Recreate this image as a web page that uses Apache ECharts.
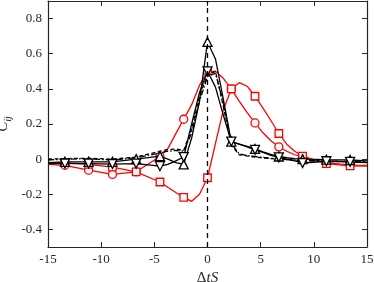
<!DOCTYPE html>
<html><head><meta charset="utf-8">
<script src="https://cdn.jsdelivr.net/npm/echarts@6/dist/echarts.min.js"></script>
<style>html,body{margin:0;padding:0;background:#fff}#c{width:374px;height:282px}</style>
</head><body><div id="c"></div>
<script>
// shared time-lag grid (ΔtS)
const dtS = [-15, -13.41, -11.18, -8.94, -6.71, -4.47, -3.73, -2.98, -2.24, -1.49, -0.75, 0, 0.75, 1.49, 2.24, 2.98, 3.73, 4.47, 5.22, 5.96, 6.71, 7.45, 8.2, 8.94, 11.18, 13.41, 15];
// which points carry a marker
const markerX = [-13.41, -11.18, -8.94, -6.71, -4.47, -2.24, 0, 2.24, 4.47, 6.71, 8.94, 11.18, 13.41];
const redCircle = [-0.03, -0.035, -0.063, -0.087, -0.072, 0.015, 0.06, 0.145, 0.227, 0.31, 0.42, 0.5, 0.5, 0.46, 0.40, 0.33, 0.265, 0.206, 0.15, 0.105, 0.07, 0.045, 0.025, 0.012, -0.02, -0.034, -0.036];
const redSquare = [-0.02, -0.02, -0.03, -0.045, -0.072, -0.13, -0.16, -0.19, -0.218, -0.24, -0.2, -0.106, 0.09, 0.28, 0.40, 0.435, 0.415, 0.358, 0.29, 0.22, 0.146, 0.085, 0.045, 0.017, -0.025, -0.038, -0.04];
const blackUp = [-0.02, -0.015, -0.015, -0.015, 0.0, 0.017, 0.0, -0.02, -0.03, 0.12, 0.33, 0.667, 0.57, 0.34, 0.1, 0.085, 0.072, 0.058, 0.042, 0.027, 0.015, 0.008, 0.003, 0.0, -0.003, -0.005, -0.01];
const blackDown = [-0.025, -0.025, -0.025, -0.028, -0.025, -0.04, -0.03, -0.01, 0.012, 0.2, 0.38, 0.5, 0.41, 0.25, 0.1, 0.085, 0.07, 0.053, 0.038, 0.022, 0.01, 0.0, -0.01, -0.022, -0.012, -0.015, -0.02];
const blackDashed = [0.0, 0.003, 0.005, 0.0, 0.012, 0.045, 0.055, 0.058, 0.05, 0.17, 0.36, 0.48, 0.5, 0.3, 0.08, 0.025, 0.018, 0.012, 0.007, 0.003, 0.0, -0.003, -0.006, -0.008, -0.012, -0.015, -0.018];
const blackDashDot = [-0.005, 0.0, 0.002, -0.005, 0.008, 0.035, 0.045, 0.05, 0.045, 0.15, 0.33, 0.47, 0.49, 0.32, 0.09, 0.03, 0.02, 0.015, 0.01, 0.005, 0.002, -0.002, -0.005, -0.008, -0.01, -0.014, -0.016];
const xTicks = [-15, -10, -5, 0, 5, 10, 15];
const yTicks = [-0.4, -0.2, 0, 0.2, 0.4, 0.6, 0.8];

const FONT = 'Liberation Serif';
const AX = '#262626';

function pts(ys, withMarkers) {
  return dtS.map((x, i) => {
    const o = { value: [x, ys[i]] };
    if (!withMarkers || markerX.indexOf(x) < 0) o.symbol = 'none';
    return o;
  });
}
function mk(name, ys, color, symbol, opts) {
  opts = opts || {};
  return Object.assign({
    name, type: 'line', data: pts(ys, !!symbol),
    symbol: symbol || 'none', symbolSize: opts.size || 8,
    symbolRotate: opts.rotate || 0,
    showAllSymbol: true, silent: true, animation: false,
    lineStyle: { color, width: 1.3, type: opts.dash || 'solid' },
    itemStyle: { color: '#fff', borderColor: color, borderWidth: 1.3 },
    z: opts.z || 2
  }, opts.extra || {});
}

const axLine = { show: true, onZero: false, lineStyle: { color: AX, width: 1.2 } };
const tick = (vals) => Object.assign({ show: true, inside: true, length: 5, lineStyle: { color: AX, width: 1 } }, vals ? { customValues: vals } : {});

const chart = echarts.init(document.getElementById('c'), null, { renderer: 'canvas' });
chart.setOption({
  animation: false,
  grid: { left: 48, right: 7, top: 1, bottom: 35, containLabel: false, outerBoundsMode: 'none' },
  xAxis: [
    { type: 'value', min: -15, max: 15, interval: 5, position: 'bottom',
      axisLine: axLine, axisTick: tick(xTicks), splitLine: { show: false },
      name: '{d|Δ}{i|tS}', nameLocation: 'middle', nameGap: 19,
      nameTextStyle: { color: AX, fontFamily: FONT, fontSize: 15,
        rich: { d: { fontFamily: FONT, fontSize: 15, color: AX }, i: { fontFamily: FONT, fontSize: 15, fontStyle: 'italic', color: AX } } },
      axisLabel: { color: AX, fontFamily: FONT, fontSize: 13, margin: 6, customValues: xTicks, formatter: v => String(v) } },
    { type: 'value', min: -15, max: 15, interval: 5, position: 'top',
      axisLine: axLine, axisTick: tick(xTicks), splitLine: { show: false }, axisLabel: { show: false } }
  ],
  yAxis: [
    { type: 'value', min: -0.5, max: 0.9, position: 'left',
      axisLine: axLine, axisTick: tick(yTicks), splitLine: { show: false },
      axisLabel: { color: AX, fontFamily: FONT, fontSize: 13, margin: 6, customValues: yTicks,
        formatter: v => (Math.abs(v) < 1e-9 ? '0' : String(Math.round(v * 10) / 10)) },
      name: '{c|C}{s|ij}', nameLocation: 'middle', nameGap: 35, nameRotate: 90, nameMoveOverlap: false,
      nameTextStyle: { color: AX, fontFamily: FONT,
        rich: { c: { fontFamily: FONT, fontSize: 15, fontStyle: 'italic', color: AX, lineHeight: 19 },
                s: { fontFamily: FONT, fontSize: 10, fontStyle: 'italic', color: AX, verticalAlign: 'bottom', lineHeight: 10 } } } },
    { type: 'value', min: -0.5, max: 0.9, position: 'right',
      axisLine: axLine, axisTick: tick(yTicks), splitLine: { show: false }, axisLabel: { show: false } }
  ],
  series: [
    mk('redCircle', redCircle, '#ff0000', 'circle', { size: 8 }),
    mk('redSquare', redSquare, '#ff0000', 'rect', { size: 7.5 }),
    mk('blackDashed', blackDashed, '#000', null, { dash: [4, 2.5], z: 3 }),
    mk('blackDashDot', blackDashDot, '#000', null, { dash: [6, 2, 1.5, 2], z: 3 }),
    mk('blackUp', blackUp, '#000', 'triangle', { size: 9, z: 4,
      extra: { markLine: { silent: true, symbol: 'none', label: { show: false },
        lineStyle: { color: '#000', type: [5, 4], width: 1.3 }, data: [{ xAxis: 0 }] } } }),
    mk('blackDown', blackDown, '#000', 'triangle', { size: 9, rotate: 180, z: 4 })
  ]
});
</script></body></html>
